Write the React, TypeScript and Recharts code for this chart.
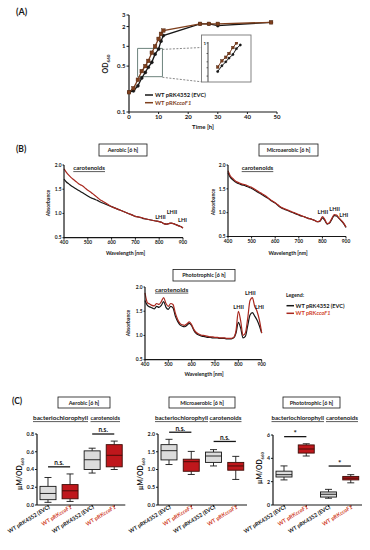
import React from "react";
import {
  LineChart,
  Line,
  XAxis,
  YAxis,
  ComposedChart,
  Bar,
  ReferenceLine,
  ReferenceArea,
} from "recharts";

const FONT = "Lato, 'Open Sans', sans-serif";
const INK = "#161616";
const BROWN = "#7e3f1d";
const RED = "#a8281f";
const LABEL_RED = "#cf3d27";

// (A) growth curve
const growthTimes = [0, 1.5, 3, 4.3, 5.5, 6.5, 7.7, 8.8, 10, 10.8, 11.6, 24, 27, 30, 48];
const growthEvc = [0.2, 0.21, 0.25, 0.33, 0.4, 0.48, 0.57, 0.76, 0.91, 1.2, 1.46, 2.2, 2.2, 2.07, 2.32];
const growthCco = [0.2, 0.23, 0.31, 0.42, 0.5, 0.6, 0.8, 1.0, 1.3, 1.55, 1.74, 2.2, 2.2, 2.2, 2.32];
const odTicks = [0.1, 0.5, 1, 2, 3];
const odMinor = [0.2, 0.3, 0.4, 0.6, 0.7, 0.8, 0.9];
const timeTicks = [0, 10, 20, 30, 40, 50];
const insetTicks = [0.2, 0.3, 0.4, 0.5, 0.6, 0.7, 0.8, 0.9, 1];

// (B) absorption spectra
const wavelengths = [
  400, 410, 420, 430, 440, 450, 460, 470, 480, 490, 500, 510, 520, 530, 540, 550, 560,
  570, 580, 590, 600, 610, 620, 630, 640, 650, 660, 670, 680, 690, 700, 710, 720, 730,
  740, 750, 760, 770, 780, 790, 800, 810, 820, 830, 840, 850, 860, 870, 880, 890, 900,
];
const aerobicEvc = [
  1.71, 1.65, 1.61, 1.57, 1.54, 1.51, 1.48, 1.45, 1.42, 1.39, 1.36, 1.33, 1.31, 1.29, 1.27,
  1.24, 1.22, 1.2, 1.18, 1.16, 1.14, 1.12, 1.1, 1.08, 1.06, 1.04, 1.02, 1.0, 0.98, 0.96,
  0.94, 0.93, 0.92, 0.9, 0.89, 0.88, 0.87, 0.86, 0.85, 0.84, 0.83, 0.82, 0.79, 0.78, 0.79,
  0.8, 0.79, 0.77, 0.75, 0.73, 0.7,
];
const aerobicCco = [
  1.92, 1.85, 1.79, 1.74, 1.7, 1.66, 1.62, 1.59, 1.56, 1.52, 1.48, 1.45, 1.41, 1.37, 1.33,
  1.29, 1.26, 1.23, 1.2, 1.17, 1.14, 1.12, 1.1, 1.08, 1.06, 1.04, 1.02, 1.0, 0.98, 0.96,
  0.94, 0.93, 0.92, 0.91, 0.89, 0.88, 0.87, 0.86, 0.85, 0.84, 0.83, 0.82, 0.79, 0.78, 0.79,
  0.8, 0.79, 0.77, 0.75, 0.73, 0.7,
];
const microEvc = [
  1.84, 1.74, 1.69, 1.65, 1.62, 1.6, 1.58, 1.57, 1.55, 1.53, 1.51, 1.48, 1.45, 1.42, 1.39,
  1.36, 1.33, 1.3, 1.26, 1.23, 1.2, 1.16, 1.12, 1.09, 1.07, 1.05, 1.03, 1.01, 0.99, 0.97,
  0.95, 0.93, 0.92, 0.9, 0.88, 0.87, 0.85, 0.83, 0.81, 0.82, 0.89, 0.84, 0.76, 0.78, 0.86,
  0.94, 0.93, 0.88, 0.83, 0.77, 0.69,
];
const microCco = [
  1.88, 1.77, 1.72, 1.67, 1.64, 1.62, 1.6, 1.59, 1.57, 1.55, 1.53, 1.5, 1.47, 1.44, 1.41,
  1.38, 1.35, 1.31, 1.27, 1.24, 1.21, 1.17, 1.13, 1.1, 1.08, 1.06, 1.04, 1.02, 1.0, 0.98,
  0.96, 0.94, 0.92, 0.9, 0.88, 0.87, 0.85, 0.83, 0.81, 0.83, 0.92, 0.86, 0.77, 0.79, 0.88,
  0.96, 0.95, 0.89, 0.84, 0.78, 0.7,
];
const photoEvc = [
  1.72, 1.62, 1.59, 1.57, 1.55, 1.6, 1.58, 1.62, 1.7, 1.58, 1.54, 1.6, 1.57, 1.4, 1.29,
  1.22, 1.19, 1.18, 1.21, 1.25, 1.2, 1.1, 1.04, 1.01, 0.99, 0.98, 0.97, 0.96, 0.96, 0.95,
  0.95, 0.95, 0.94, 0.94, 0.94, 0.93, 0.93, 0.93, 0.95, 1.05, 1.27, 1.15, 0.95, 0.98, 1.2,
  1.42, 1.47, 1.4, 1.32, 1.2, 1.05,
];
const photoCco = [
  1.88, 1.68, 1.65, 1.62, 1.61, 1.66, 1.64, 1.7, 1.78, 1.66, 1.6, 1.66, 1.64, 1.46, 1.33,
  1.25, 1.22, 1.21, 1.24, 1.28, 1.22, 1.12, 1.06, 1.03, 1.01, 1.0, 0.99, 0.98, 0.97, 0.97,
  0.96, 0.96, 0.95, 0.95, 0.95, 0.94, 0.94, 0.94, 0.96, 1.1, 1.5, 1.3, 1.0, 1.05, 1.35,
  1.72, 1.78, 1.6, 1.5, 1.32, 1.05,
];
const nmTicks = [400, 500, 600, 700, 800, 900];
const absTicks = [0.5, 1.0, 1.5, 2.0];

// (C) pigment box plots: [min, q1, median, q3, max]
const boxCategories = ["evc-bchl", "cco-bchl", "evc-car", "cco-car"];
const aerobicStats = [
  [0.03, 0.06, 0.13, 0.21, 0.31],
  [0.04, 0.07, 0.16, 0.23, 0.35],
  [0.36, 0.4, 0.51, 0.61, 0.64],
  [0.4, 0.43, 0.56, 0.68, 0.72],
];
const microStats = [
  [1.14, 1.27, 1.53, 1.7, 1.85],
  [0.86, 0.95, 1.22, 1.29, 1.51],
  [1.1, 1.2, 1.38, 1.49, 1.56],
  [0.72, 0.98, 1.1, 1.2, 1.37],
];
const photoStats = [
  [2.15, 2.4, 2.6, 2.9, 3.35],
  [4.2, 4.45, 4.8, 5.15, 5.25],
  [0.58, 0.68, 0.92, 1.12, 1.34],
  [1.9, 2.15, 2.3, 2.45, 2.6],
];
const aerobicSig = [
  { from: 0, to: 1, y: 0.43, text: "n.s." },
  { from: 2, to: 3, y: 0.8, text: "n.s." },
];
const microSig = [
  { from: 0, to: 1, y: 2.05, text: "n.s." },
  { from: 2, to: 3, y: 1.79, text: "n.s." },
];
const photoSig = [
  { from: 0, to: 1, y: 5.86, text: "*" },
  { from: 2, to: 3, y: 3.34, text: "*" },
];

type Rect = { x0: number; y0: number; x1: number; y1: number };
const PAD = { top: 14, right: 12, bottom: 6, left: 6 };

function place(p: Rect, yW: number, xH: number) {
  return {
    left: p.x0 - yW - PAD.left,
    top: p.y0 - PAD.top,
    width: p.x1 - p.x0 + yW + PAD.left + PAD.right,
    height: p.y1 - p.y0 + xH + PAD.top + PAD.bottom,
  };
}

const axisLine = { stroke: INK, strokeWidth: 1.2 };
const tickLine = { stroke: INK, strokeWidth: 1 };
const tickFont = (size: number) => ({
  fontSize: size,
  fill: INK,
  fontWeight: 700,
  fontFamily: FONT,
});

const squareDot = (size: number) => (p: any) => (
  <rect
    key={`sq-${p.index}`}
    x={p.cx - size / 2}
    y={p.cy - size / 2}
    width={size}
    height={size}
    fill={BROWN}
    stroke="#4a2410"
    strokeWidth={0.4}
  />
);

const GrowthChart = () => {
  const data = growthTimes.map((t, i) => ({ t, evc: growthEvc[i], cco: growthCco[i] }));
  const g = place({ x0: 129, y0: 15, x1: 277, y1: 112 }, 20, 12);
  return (
    <div style={{ position: "absolute", left: g.left, top: g.top }}>
      <LineChart width={g.width} height={g.height} data={data} margin={PAD}>
        <XAxis
          type="number"
          dataKey="t"
          domain={[0, 50]}
          ticks={timeTicks}
          axisLine={axisLine}
          tickLine={tickLine}
          tickSize={2}
          tickMargin={1}
          tick={tickFont(6)}
          height={12}
        />
        <YAxis
          yAxisId="minor"
          type="number"
          scale="log"
          domain={[0.1, 3]}
          ticks={odMinor}
          tick={false}
          tickSize={1.5}
          tickLine={tickLine}
          axisLine={false}
          width={0}
          allowDataOverflow
        />
        <YAxis
          type="number"
          scale="log"
          domain={[0.1, 3]}
          ticks={odTicks}
          tickFormatter={(v) => String(v)}
          axisLine={axisLine}
          tickLine={tickLine}
          tickSize={2.5}
          tickMargin={1}
          tick={tickFont(6)}
          width={20}
          allowDataOverflow
        />
        <ReferenceArea
          x1={2.9}
          x2={11.3}
          y1={0.345}
          y2={0.93}
          fill="none"
          stroke="#6d837d"
          strokeWidth={1}
        />
        <Line
          type="linear"
          dataKey="evc"
          stroke={INK}
          strokeWidth={1.3}
          dot={{ r: 1.6, fill: INK, stroke: INK, strokeWidth: 0.4 }}
          isAnimationActive={false}
        />
        <Line
          type="linear"
          dataKey="cco"
          stroke={BROWN}
          strokeWidth={1.3}
          dot={squareDot(3.6)}
          isAnimationActive={false}
        />
      </LineChart>
    </div>
  );
};

const GrowthInset = () => {
  const data = growthTimes
    .map((t, i) => ({ t, evc: growthEvc[i], cco: growthCco[i] }))
    .filter((d) => d.t >= 3 && d.t <= 10);
  const g = place({ x0: 208, y0: 42, x1: 250, y1: 82 }, 6, 0);
  return (
    <div style={{ position: "absolute", left: g.left, top: g.top }}>
      <LineChart width={g.width} height={g.height} data={data} margin={PAD}>
        <XAxis type="number" dataKey="t" domain={[0, 13]} hide allowDataOverflow />
        <YAxis
          type="number"
          scale="log"
          domain={[0.15, 1.05]}
          ticks={insetTicks}
          tickFormatter={(v) => (v === 1 ? "1" : "")}
          axisLine={{ stroke: INK, strokeWidth: 0.8 }}
          tickLine={{ stroke: INK, strokeWidth: 0.6 }}
          tickSize={1.5}
          tickMargin={0.5}
          tick={tickFont(4.5)}
          width={6}
          allowDataOverflow
        />
        <Line
          type="linear"
          dataKey="evc"
          stroke={INK}
          strokeWidth={1}
          dot={{ r: 1.2, fill: INK, stroke: INK, strokeWidth: 0.3 }}
          isAnimationActive={false}
        />
        <Line
          type="linear"
          dataKey="cco"
          stroke={BROWN}
          strokeWidth={1}
          dot={squareDot(2.6)}
          isAnimationActive={false}
        />
      </LineChart>
    </div>
  );
};

const Spectrum = ({ plot, evc, cco }: { plot: Rect; evc: number[]; cco: number[] }) => {
  const data = wavelengths.map((nm, i) => ({ nm, evc: evc[i], cco: cco[i] }));
  const g = place(plot, 16, 10);
  return (
    <div style={{ position: "absolute", left: g.left, top: g.top }}>
      <LineChart width={g.width} height={g.height} data={data} margin={PAD}>
        <XAxis
          type="number"
          dataKey="nm"
          domain={[400, 900]}
          ticks={nmTicks}
          axisLine={axisLine}
          tickLine={tickLine}
          tickSize={2}
          tickMargin={1}
          tick={tickFont(4.8)}
          height={10}
        />
        <YAxis
          type="number"
          domain={[0.5, 2]}
          ticks={absTicks}
          tickFormatter={(v) => Number(v).toFixed(1)}
          axisLine={axisLine}
          tickLine={tickLine}
          tickSize={1.5}
          tickMargin={1}
          tick={tickFont(4.8)}
          width={16}
        />
        <Line
          type="monotone"
          dataKey="evc"
          stroke={INK}
          strokeWidth={1.2}
          dot={false}
          isAnimationActive={false}
        />
        <Line
          type="monotone"
          dataKey="cco"
          stroke={RED}
          strokeWidth={1.2}
          dot={false}
          isAnimationActive={false}
        />
      </LineChart>
    </div>
  );
};

const BoxShape = (props: any) => {
  const { x, y, width, height, payload } = props;
  const [lo, q1, med, q3, hi] = payload.stats as number[];
  const k = height / (hi - lo);
  const py = (v: number) => y + (hi - v) * k;
  const cx = x + width / 2;
  const cap = 3.5;
  const red = payload.red;
  const fill = red ? "#bf171c" : "#dcdcdc";
  const edge = red ? "#3d0c06" : INK;
  return (
    <g>
      <line x1={cx} x2={cx} y1={py(hi)} y2={py(q3)} stroke={INK} strokeWidth={0.9} />
      <line x1={cx} x2={cx} y1={py(q1)} y2={py(lo)} stroke={INK} strokeWidth={0.9} />
      <line x1={cx - cap} x2={cx + cap} y1={py(hi)} y2={py(hi)} stroke={INK} strokeWidth={0.9} />
      <line x1={cx - cap} x2={cx + cap} y1={py(lo)} y2={py(lo)} stroke={INK} strokeWidth={0.9} />
      <rect
        x={x}
        y={py(q3)}
        width={width}
        height={py(q1) - py(q3)}
        fill={fill}
        stroke={edge}
        strokeWidth={0.9}
      />
      <line x1={x} x2={x + width} y1={py(med)} y2={py(med)} stroke={edge} strokeWidth={0.9} />
    </g>
  );
};

const BoxTick = (props: any) => {
  const { x, y, payload } = props;
  const i = boxCategories.indexOf(payload.value);
  const red = i % 2 === 1;
  return (
    <g transform={`translate(${x + 2},${y - 1})`}>
      <text
        transform="rotate(-32)"
        textAnchor="end"
        fontSize={5.5}
        fontWeight={700}
        fontFamily={FONT}
        fill={red ? LABEL_RED : INK}
      >
        {red ? (
          <>
            WT pRK<tspan fontStyle="italic">ccoF1</tspan>
          </>
        ) : (
          "WT pRK4352 (EVC)"
        )}
      </text>
    </g>
  );
};

type Sig = { from: number; to: number; y: number; text: string };

const BoxPanel = ({
  plot,
  stats,
  domain,
  ticks,
  digits,
  sig,
}: {
  plot: Rect;
  stats: number[][];
  domain: [number, number];
  ticks: number[];
  digits: number;
  sig: Sig[];
}) => {
  const data = boxCategories.map((cat, i) => ({
    cat,
    range: [stats[i][0], stats[i][4]],
    stats: stats[i],
    red: i % 2 === 1,
  }));
  const g = place(plot, 18, 30);
  return (
    <div style={{ position: "absolute", left: g.left, top: g.top }}>
      <ComposedChart width={g.width} height={g.height} data={data} margin={PAD}>
        <XAxis
          dataKey="cat"
          type="category"
          interval={0}
          axisLine={axisLine}
          tickLine={tickLine}
          tickSize={2}
          tick={<BoxTick />}
          height={30}
        />
        <YAxis
          type="number"
          domain={domain}
          ticks={ticks}
          tickFormatter={(v) => Number(v).toFixed(digits)}
          axisLine={axisLine}
          tickLine={tickLine}
          tickSize={2}
          tickMargin={1}
          tick={tickFont(5.3)}
          width={18}
          allowDataOverflow
        />
        <Bar
          dataKey="range"
          barSize={16}
          shape={(p: any) => <BoxShape {...p} />}
          isAnimationActive={false}
        />
        {sig.map((s, i) => (
          <ReferenceLine
            key={`sig-${i}`}
            segment={[
              { x: boxCategories[s.from], y: s.y },
              { x: boxCategories[s.to], y: s.y },
            ]}
            stroke={INK}
            strokeWidth={1.3}
            ifOverflow="visible"
            label={{
              value: s.text,
              position: "top",
              offset: s.text === "*" ? 0.5 : 1.5,
              fill: INK,
              fontSize: s.text === "*" ? 8 : 6.5,
              fontWeight: 700,
              fontFamily: FONT,
            }}
          />
        ))}
      </ComposedChart>
    </div>
  );
};

const T = (p: any) => (
  <text fontFamily={FONT} fontWeight={700} fill={INK} {...p} />
);

const TitleBox = ({ x, y, w, h, text }: { x: number; y: number; w: number; h: number; text: string }) => (
  <g>
    <rect x={x} y={y} width={w} height={h} fill="#fff" stroke={INK} strokeWidth={0.8} />
    <T x={x + w / 2} y={y + h / 2 + 2} fontSize={5.4} textAnchor="middle">
      {text}
    </T>
  </g>
);

const Underlined = ({ x, y, w, text, size }: { x: number; y: number; w: number; text: string; size: number }) => (
  <g>
    <T x={x} y={y} fontSize={size} textLength={w} lengthAdjust="spacingAndGlyphs">
      {text}
    </T>
    <line x1={x} x2={x + w} y1={y + 1.6} y2={y + 1.6} stroke={INK} strokeWidth={0.7} />
  </g>
);

const UmOd = ({ x, y }: { x: number; y: number }) => (
  <T transform={`translate(${x},${y}) rotate(-90)`} textAnchor="middle" fontSize={6.8}>
    µM/OD<tspan fontSize={4.3} dy={1.6}>660</tspan>
  </T>
);

const Overlay = () => (
  <svg
    width={370}
    height={550}
    style={{ position: "absolute", left: 0, top: 0, pointerEvents: "none" }}
  >
    {/* (A) */}
    <T x={16} y={14.5} fontSize={9}>(A)</T>
    <T transform="translate(108,64) rotate(-90)" textAnchor="middle" fontSize={7}>
      OD<tspan fontSize={4.5} dy={1.6}>660</tspan>
    </T>
    <T x={203} y={129} textAnchor="middle" fontSize={6}>Time [h]</T>
    <line x1={145} x2={153} y1={95} y2={95} stroke={INK} strokeWidth={1.5} />
    <T x={155} y={97.2} fontSize={5.8}>WT pRK4352 (EVC)</T>
    <line x1={145} x2={153} y1={102.7} y2={102.7} stroke={BROWN} strokeWidth={1.5} />
    <T x={155} y={104.9} fontSize={5.8} fill={BROWN}>
      WT pRK<tspan fontStyle="italic">ccoF1</tspan>
    </T>
    <line x1={162.4} x2={201.5} y1={49.4} y2={47.5} stroke="#555" strokeWidth={0.7} strokeDasharray="2 1.5" />
    <line x1={162.4} x2={201.5} y1={77.3} y2={81.8} stroke="#555" strokeWidth={0.7} strokeDasharray="2 1.5" />
    <rect x={201.5} y={35} width={49.5} height={47} fill="none" stroke="#777" strokeWidth={0.9} />

    {/* (B) */}
    <T x={16} y={151.5} fontSize={8.5}>(B)</T>
    <TitleBox x={99} y={144} w={48} h={12} text="Aerobic  [6 h]" />
    <TitleBox x={259} y={144} w={59} h={12} text="Microaerobic  [6 h]" />
    <TitleBox x={173} y={269.5} w={62} h={11.5} text="Phototrophic  [6 h]" />
    <Underlined x={73.3} y={170} w={31.7} text="carotenoids" size={5.4} />
    <Underlined x={241.7} y={170} w={31.6} text="carotenoids" size={5.4} />
    <Underlined x={155} y={291.5} w={33.3} text="carotenoids" size={5.4} />

    <T x={160.5} y={219} fontSize={5.6} textAnchor="middle">LHII</T>
    <T x={172} y={214} fontSize={5.6} textAnchor="middle">LHII</T>
    <T x={182.5} y={221.5} fontSize={5.6} textAnchor="middle">LHI</T>
    <T x={322.8} y={214} fontSize={5.6} textAnchor="middle">LHII</T>
    <T x={334.6} y={210.5} fontSize={5.6} textAnchor="middle">LHII</T>
    <T x={343.8} y={216.5} fontSize={5.6} textAnchor="middle">LHI</T>
    <T x={238.6} y={309} fontSize={5.6} textAnchor="middle">LHII</T>
    <T x={250.3} y={295} fontSize={5.6} textAnchor="middle">LHII</T>
    <T x={259.5} y={309.2} fontSize={5.6} textAnchor="middle">LHI</T>

    <T transform="translate(49.5,203) rotate(-90)" textAnchor="middle" fontSize={5}>Absorbance</T>
    <T transform="translate(214.5,202) rotate(-90)" textAnchor="middle" fontSize={5}>Absorbance</T>
    <T transform="translate(129.5,323) rotate(-90)" textAnchor="middle" fontSize={5}>Absorbance</T>
    <T x={125.5} y={254.5} textAnchor="middle" fontSize={5.2}>Wavelength [nm]</T>
    <T x={288} y={254.5} textAnchor="middle" fontSize={5.2}>Wavelength [nm]</T>
    <T x={204} y={376} textAnchor="middle" fontSize={5.2}>Wavelength [nm]</T>

    <T x={286} y={297} fontSize={5.2}>Legend:</T>
    <line x1={286.5} x2={294} y1={305.7} y2={305.7} stroke={INK} strokeWidth={1.5} />
    <T x={295.5} y={307.7} fontSize={5.6}>WT pRK4352 (EVC)</T>
    <line x1={286.5} x2={294} y1={313.3} y2={313.3} stroke={RED} strokeWidth={1.5} />
    <T x={295.5} y={315.3} fontSize={5.6} fill={LABEL_RED}>
      WT pRK<tspan fontStyle="italic">ccoF1</tspan>
    </T>

    {/* (C) */}
    <T x={12} y={403.5} fontSize={8.5}>(C)</T>
    <TitleBox x={58} y={397} w={52} h={11} text="Aerobic  [6 h]" />
    <TitleBox x={169} y={397} w={66} h={11} text="Microaerobic  [6 h]" />
    <TitleBox x={283} y={397} w={57} h={11} text="Phototrophic  [6 h]" />
    <Underlined x={33} y={420} w={55} text="bacteriochlorophyll" size={5.2} />
    <Underlined x={90.5} y={420} w={29.5} text="carotenoids" size={5.2} />
    <Underlined x={155} y={420} w={53} text="bacteriochlorophyll" size={5.2} />
    <Underlined x={209.5} y={420} w={32} text="carotenoids" size={5.2} />
    <Underlined x={271.5} y={420} w={52.5} text="bacteriochlorophyll" size={5.2} />
    <Underlined x={326} y={420} w={32} text="carotenoids" size={5.2} />
    <UmOd x={22} y={474} />
    <UmOd x={143} y={474} />
    <UmOd x={262} y={468} />
  </svg>
);

export default function App() {
  return (
    <div
      style={{
        position: "absolute",
        left: 0,
        top: 0,
        width: 370,
        height: 550,
        background: "#fff",
        fontFamily: FONT,
        overflow: "hidden",
      }}
    >
      <style>{".recharts-surface{overflow:visible}.recharts-wrapper{overflow:visible}"}</style>
      <GrowthChart />
      <GrowthInset />
      <Spectrum plot={{ x0: 64.3, y0: 165, x1: 183.3, y1: 237.7 }} evc={aerobicEvc} cco={aerobicCco} />
      <Spectrum plot={{ x0: 228, y0: 165, x1: 346, y1: 236.5 }} evc={microEvc} cco={microCco} />
      <Spectrum plot={{ x0: 145, y0: 287.3, x1: 261.7, y1: 360 }} evc={photoEvc} cco={photoCco} />
      <BoxPanel
        plot={{ x0: 36.7, y0: 434, x1: 125, y1: 505 }}
        stats={aerobicStats}
        domain={[0, 0.8]}
        ticks={[0, 0.2, 0.4, 0.6, 0.8]}
        digits={1}
        sig={aerobicSig}
      />
      <BoxPanel
        plot={{ x0: 158, y0: 434, x1: 247, y1: 505 }}
        stats={microStats}
        domain={[0, 2]}
        ticks={[0, 0.5, 1, 1.5, 2]}
        digits={1}
        sig={microSig}
      />
      <BoxPanel
        plot={{ x0: 273, y0: 435, x1: 362, y1: 505 }}
        stats={photoStats}
        domain={[0, 6]}
        ticks={[0, 2, 4, 6]}
        digits={0}
        sig={photoSig}
      />
      <Overlay />
    </div>
  );
}
